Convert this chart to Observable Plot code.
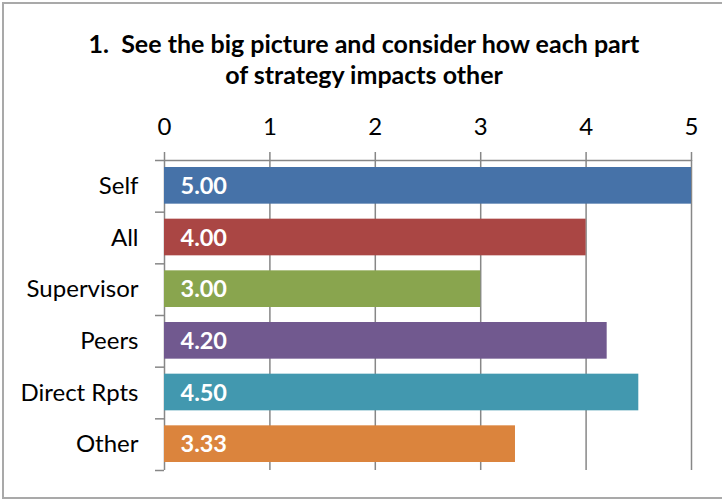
<!DOCTYPE html>
<html>
<head>
<meta charset="utf-8">
<script src="https://cdn.jsdelivr.net/npm/d3@7"></script>
<script src="https://cdn.jsdelivr.net/npm/@observablehq/plot@0.6"></script>
<style>
  html, body { margin: 0; padding: 0; background: #fff; }
  #wrap { position: relative; width: 722px; height: 499px; overflow: hidden; font-family: Lato, "Open Sans", sans-serif; }
  #border { position: absolute; left: 2px; top: 2px; width: 740px; height: 497px; box-sizing: border-box; border: 2px solid #a9a9a9; }
  #title { position: absolute; left: 0; top: 28px; width: 728px; text-align: center; font-weight: bold; font-size: 25px; line-height: 31px; color: #000; }
  #chart { position: absolute; left: 0; top: 0; }
</style>
</head>
<body>
<div id="wrap">
  <div id="border"></div>
  <div id="title">1.&nbsp; See the big picture and consider how each part<br>of strategy impacts other</div>
  <div id="chart"></div>
</div>
<script>
const categories = ["Self", "All", "Supervisor", "Peers", "Direct Rpts", "Other"];
const values = [5.00, 4.00, 3.00, 4.20, 4.50, 3.33];
const colors = ["#4672A8", "#AA4644", "#89A54E", "#71598F", "#4298AF", "#DB843D"];
const xTicks = [0, 1, 2, 3, 4, 5];

const rows = categories.map((c, i) => ({cat: c, value: values[i], color: colors[i], i}));
const boundaries = d3.range(categories.length + 1);

const gray = "#878787";

const chart = Plot.plot({
  width: 722,
  height: 499,
  marginTop: 160,
  marginBottom: 29,
  marginLeft: 164,
  marginRight: 31,
  style: {fontFamily: "Lato, 'Open Sans', sans-serif", background: "transparent", color: "#000"},
  x: {domain: [0, 5], axis: null},
  y: {domain: [0, categories.length], reverse: true, axis: null},
  color: {type: "identity"},
  marks: [
    Plot.ruleX(xTicks, {stroke: gray, strokeWidth: 1.5}),
    Plot.ruleY([0], {x1: 0, x2: 5, stroke: gray, strokeWidth: 1.5}),
    Plot.axisX(xTicks, {anchor: "top", label: null, tickSize: 9, tickPadding: 17, fontSize: 24, stroke: gray, strokeWidth: 1.5, fill: "#000", tickFormat: d => String(d)}),
    Plot.axisY(boundaries, {anchor: "left", label: null, tickSize: 9, stroke: gray, strokeWidth: 1.5, tickFormat: () => ""}),
    Plot.rectX(rows, {x1: 0, x2: "value", y1: "i", y2: d => d.i + 1, fill: "color", insetTop: 7, insetBottom: 8}),
    Plot.text(rows, {x: 0, y: d => d.i + 0.5, text: d => d.value.toFixed(2), textAnchor: "start", dx: 16, fill: "#fff", fontWeight: "bold", fontSize: 23.5}),
    Plot.text(rows, {x: 0, y: d => d.i + 0.5, text: "cat", textAnchor: "end", dx: -26, fill: "#000", fontSize: 24})
  ]
});
document.getElementById("chart").appendChild(chart);
</script>
</body>
</html>
